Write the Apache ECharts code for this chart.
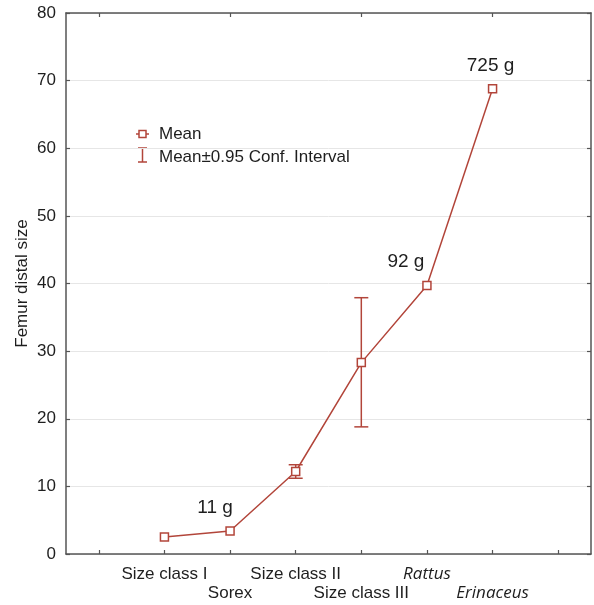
<!DOCTYPE html>
<html>
<head>
<meta charset="utf-8">
<script src="https://cdn.jsdelivr.net/npm/echarts@6/dist/echarts.min.js"></script>
<style>
  html, body { margin: 0; padding: 0; background: #fff; }
  #chart { width: 594px; height: 605px; }
</style>
</head>
<body>
<div id="chart"></div>
<script>
// Groups along the x axis (blank slots pad both ends of the axis)
const categories = ['', 'Size class I', 'Sorex', 'Size class II', 'Size class III', 'Rattus', 'Erinaceus', ''];
const italicCategories = ['Rattus', 'Erinaceus'];
// Mean femur distal size per group
const meanValues = [null, 2.5, 3.4, 12.2, 28.3, 39.7, 68.8, null];
// 0.95 confidence interval bounds (only where available)
const ciLower = [null, null, null, 11.2, 18.8, null, null, null];
const ciUpper = [null, null, null, 13.2, 37.9, null, null, null];
// Body-mass annotations placed above selected means
const massLabels = [null, null, '11 g', null, null, '92 g', '725 g', null];
const massLabelShift = [null, null, [-15, -4], null, null, [-21, -5], [-2, -4], null];
// Value axis range
const yMin = 0, yMax = 80, yStep = 10;

const RED = '#b2453a';
const AXIS = '#555555';
const TEXT = '#1e1e1e';
const FONT = '"Liberation Sans", Arial, sans-serif';
const ITALIC_FONT = '"Open Sans", sans-serif';

const chart = echarts.init(document.getElementById('chart'), null, { renderer: 'canvas' });

const lineData = meanValues.map((v, i) => {
  if (v === null) return null;
  const item = { value: v };
  if (massLabels[i]) {
    item.label = {
      show: true,
      position: 'top',
      formatter: massLabels[i],
      offset: massLabelShift[i],
      fontSize: 19,
      color: TEXT,
      fontFamily: FONT
    };
  }
  return item;
});

const ciData = [];
categories.forEach((c, i) => {
  if (ciLower[i] !== null && ciUpper[i] !== null) ciData.push([i, ciLower[i], ciUpper[i]]);
});

const axisLineStyle = { show: true, onZero: false, lineStyle: { color: AXIS, width: 1.5 } };
const innerTick = { show: true, inside: true, alignWithLabel: true, length: 4, lineStyle: { color: AXIS, width: 1.2 } };

// Category names are staggered over two rows: odd slots on the first row, even slots on the second
function categoryLabel(row) {
  return {
    interval: 0,
    margin: row === 1 ? 12 : 31,
    formatter: (v, i) => {
      if (!v) return '';
      const onRow = (i % 2 === 1) ? 1 : 2;
      if (onRow !== row) return '';
      return '{' + (italicCategories.includes(v) ? 'i' : 'n') + '|' + v + '}';
    },
    rich: {
      n: { fontSize: 17, fontFamily: FONT, color: TEXT, lineHeight: 17 },
      i: { fontSize: 17, fontFamily: ITALIC_FONT, fontStyle: 'italic', color: TEXT, lineHeight: 17 }
    }
  };
}

const option = {
  backgroundColor: '#ffffff',
  animation: false,
  grid: { left: 66, right: 3, top: 13, bottom: 51, containLabel: false },
  xAxis: [
    {
      type: 'category',
      data: categories,
      boundaryGap: true,
      position: 'bottom',
      axisLine: axisLineStyle,
      axisTick: innerTick,
      splitLine: { show: false },
      axisLabel: categoryLabel(1)
    },
    {
      type: 'category',
      data: categories,
      boundaryGap: true,
      position: 'bottom',
      axisLine: { show: false },
      axisTick: { show: false },
      splitLine: { show: false },
      axisLabel: categoryLabel(2)
    },
    {
      type: 'category',
      data: categories,
      boundaryGap: true,
      position: 'top',
      axisLine: axisLineStyle,
      axisTick: innerTick,
      axisLabel: { show: false },
      splitLine: { show: false }
    }
  ],
  yAxis: [
    {
      type: 'value',
      min: yMin,
      max: yMax,
      interval: yStep,
      position: 'left',
      name: 'Femur distal size',
      nameLocation: 'middle',
      nameRotate: 90,
      nameGap: 35,
      nameMoveOverlap: false,
      nameTextStyle: { fontSize: 17, fontFamily: FONT, color: TEXT },
      axisLine: axisLineStyle,
      axisTick: { show: true, inside: true, length: 4, lineStyle: { color: AXIS, width: 1.2 } },
      axisLabel: { fontSize: 17, fontFamily: FONT, color: TEXT, margin: 10 },
      splitLine: { show: true, lineStyle: { color: '#e6e6e6', width: 1 } }
    },
    {
      type: 'value',
      min: yMin,
      max: yMax,
      interval: yStep,
      position: 'right',
      axisLine: axisLineStyle,
      axisTick: { show: true, inside: true, length: 4, lineStyle: { color: AXIS, width: 1.2 } },
      axisLabel: { show: false },
      splitLine: { show: false }
    }
  ],
  series: [
    {
      name: 'Mean±0.95 Conf. Interval',
      type: 'custom',
      xAxisIndex: 0,
      yAxisIndex: 0,
      z: 2,
      data: ciData,
      renderItem: (params, api) => {
        const x = api.value(0);
        const lo = api.coord([x, api.value(1)]);
        const hi = api.coord([x, api.value(2)]);
        const half = 7;
        const style = { stroke: RED, lineWidth: 1.5, fill: null };
        return {
          type: 'group',
          children: [
            { type: 'line', shape: { x1: lo[0], y1: lo[1], x2: hi[0], y2: hi[1] }, style },
            { type: 'line', shape: { x1: lo[0] - half, y1: lo[1], x2: lo[0] + half, y2: lo[1] }, style },
            { type: 'line', shape: { x1: hi[0] - half, y1: hi[1], x2: hi[0] + half, y2: hi[1] }, style }
          ]
        };
      }
    },
    {
      name: 'Mean',
      type: 'line',
      xAxisIndex: 0,
      yAxisIndex: 0,
      z: 5,
      data: lineData,
      connectNulls: false,
      symbol: 'rect',
      symbolSize: 8,
      lineStyle: { color: RED, width: 1.5 },
      itemStyle: { color: '#ffffff', borderColor: RED, borderWidth: 1.5 },
      emphasis: { disabled: true }
    }
  ],
  // Key for the two mark types, drawn in the upper-left of the plot
  graphic: [
    { type: 'line', silent: true, shape: { x1: 136, y1: 134, x2: 149, y2: 134 }, style: { stroke: RED, lineWidth: 1.5 } },
    { type: 'rect', silent: true, shape: { x: 139, y: 130.5, width: 7, height: 7 }, style: { fill: '#fff', stroke: RED, lineWidth: 1.5 } },
    { type: 'text', silent: true, x: 159, y: 134, style: { text: 'Mean', fontSize: 17, fontFamily: FONT, fill: TEXT, verticalAlign: 'middle', align: 'left' } },
    { type: 'line', silent: true, shape: { x1: 142.5, y1: 148, x2: 142.5, y2: 162 }, style: { stroke: RED, lineWidth: 1.5 } },
    { type: 'line', silent: true, shape: { x1: 138, y1: 148, x2: 147, y2: 148 }, style: { stroke: RED, lineWidth: 1.5 } },
    { type: 'line', silent: true, shape: { x1: 138, y1: 162, x2: 147, y2: 162 }, style: { stroke: RED, lineWidth: 1.5 } },
    { type: 'text', silent: true, x: 159, y: 157, style: { text: 'Mean±0.95 Conf. Interval', fontSize: 17, fontFamily: FONT, fill: TEXT, verticalAlign: 'middle', align: 'left' } }
  ]
};

chart.setOption(option);
</script>
</body>
</html>
